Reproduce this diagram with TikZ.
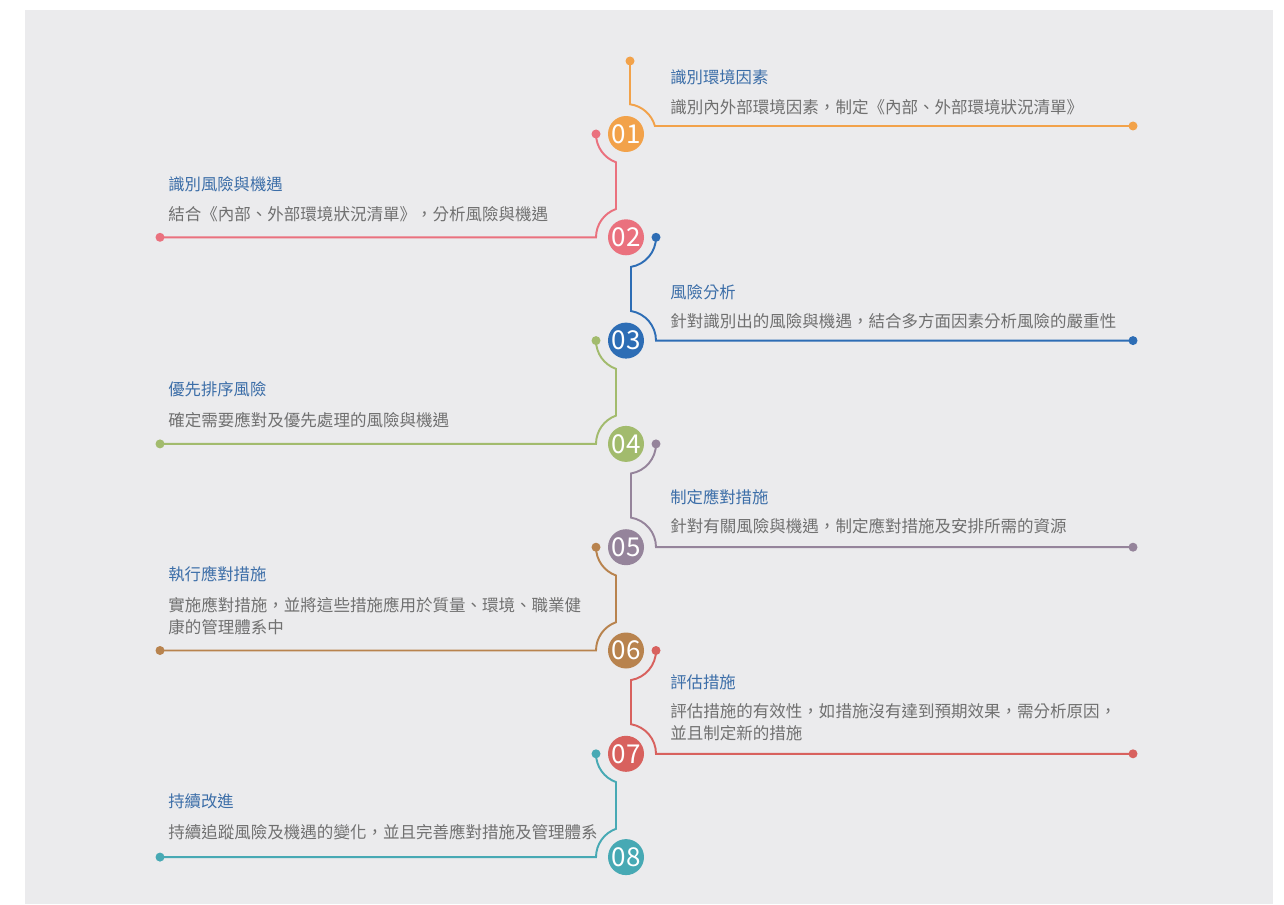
\documentclass[tikz,border=0pt]{standalone}
\usepackage{fontspec}
\setmainfont{Noto Sans CJK TC}
\usepackage{tikz}
\definecolor{bgpanel}{HTML}{EBEBED}
\definecolor{ttlblue}{HTML}{3C6EA8}
\definecolor{dscgray}{HTML}{707070}
\definecolor{cA}{HTML}{F2A24A}
\definecolor{cB}{HTML}{EA717E}
\definecolor{cC}{HTML}{2D6DB5}
\definecolor{cD}{HTML}{A2BB6D}
\definecolor{cE}{HTML}{95849B}
\definecolor{cF}{HTML}{B8834E}
\definecolor{cG}{HTML}{D8615E}
\definecolor{cH}{HTML}{47A9B4}

\begin{document}
\begin{tikzpicture}[
      x=0.02cm, y=0.02cm,
      num/.style={circle,minimum size=0.72cm,inner sep=0pt,text=white,font=\fontsize{14.8}{14.8}\selectfont},
      ln/.style={line width=1.1pt},
      ttl/.style={anchor=west,inner sep=0pt,text=ttlblue,font=\fontsize{9.3}{11}\selectfont},
      dsc/.style={anchor=west,inner sep=0pt,text=dscgray,align=left,font=\fontsize{9.4}{12.5}\selectfont},
    ]
    \useasboundingbox (0,0) rectangle (1284,904);
    \fill[bgpanel] (25,0) rectangle (1273,894);
    \def\cx{626}
    \def\gap{103.3}
    % step circles
    \foreach \k/\col in {1/cA,2/cB,3/cC,4/cD,5/cE,6/cF,7/cG,8/cH}{
      \node[num,fill=\col] (n\k) at (\cx,{770-(\k-1)*\gap}) {0\k};
    }
    % first connector
    \path (n1.center) ++(4,73) coordinate (a1);
    \path (n1.center) ++(507,8) coordinate (b1);
    \draw[ln,cA] (a1) -- ++(0,-43.27) arc[start angle=82.3,end angle=15.5,radius=30] -- (b1);
    \fill[cA] (a1) circle[radius=4.5] (b1) circle[radius=4.5];
    % right side connectors
    \foreach \k/\j/\col in {3/2/cC,5/4/cE,7/6/cG}{
      \path (n\j.center) ++(30,0) coordinate (a\k);
      \path (n\k.center) ++(507,0) coordinate (b\k);
      \draw[ln,\col] (a\k) arc[start angle=0,end angle=-80.4,radius=30] -- ++(0,-44.14)
        arc[start angle=80.4,end angle=0,radius=30] -- (b\k);
      \fill[\col] (a\k) circle[radius=4.5] (b\k) circle[radius=4.5];
    }
    % left side connectors
    \foreach \k/\j/\col in {2/1/cB,4/3/cD,6/5/cF,8/7/cH}{
      \path (n\j.center) ++(-30,0) coordinate (a\k);
      \path (n\k.center) ++(-466,0) coordinate (b\k);
      \draw[ln,\col] (a\k) arc[start angle=180,end angle=250.5,radius=30] -- ++(0,-46.74)
        arc[start angle=109.5,end angle=180,radius=30] -- (b\k);
      \fill[\col] (a\k) circle[radius=4.5] (b\k) circle[radius=4.5];
    }
    % texts
    \node[ttl] (t1) at (670,827) {識別環境因素};
    \node[dsc] (d1) at (670,797) {識別內外部環境因素，制定《內部、外部環境狀況清單》};
    \node[ttl] (t2) at (168,720) {識別風險與機遇};
    \node[dsc] (d2) at (168,690) {結合《內部、外部環境狀況清單》，分析風險與機遇};
    \node[ttl] (t3) at (670,612) {風險分析};
    \node[dsc] (d3) at (670,583) {針對識別出的風險與機遇，結合多方面因素分析風險的嚴重性};
    \node[ttl] (t4) at (168,515) {優先排序風險};
    \node[dsc] (d4) at (168,484) {確定需要應對及優先處理的風險與機遇};
    \node[ttl] (t5) at (670,407) {制定應對措施};
    \node[dsc] (d5) at (670,378) {針對有關風險與機遇，制定應對措施及安排所需的資源};
    \node[ttl] (t6) at (168,330) {執行應對措施};
    \node[dsc] (d6) at (168,288) {實施應對措施，並將這些措施應用於質量、環境、職業健\\康的管理體系中};
    \node[ttl] (t7) at (670,222) {評估措施};
    \node[dsc] (d7) at (670,182) {評估措施的有效性，如措施沒有達到預期效果，需分析原因，\\並且制定新的措施};
    \node[ttl] (t8) at (168,103) {持續改進};
    \node[dsc] (d8) at (168,72) {持續追蹤風險及機遇的變化，並且完善應對措施及管理體系};
  \end{tikzpicture}
\end{document}
